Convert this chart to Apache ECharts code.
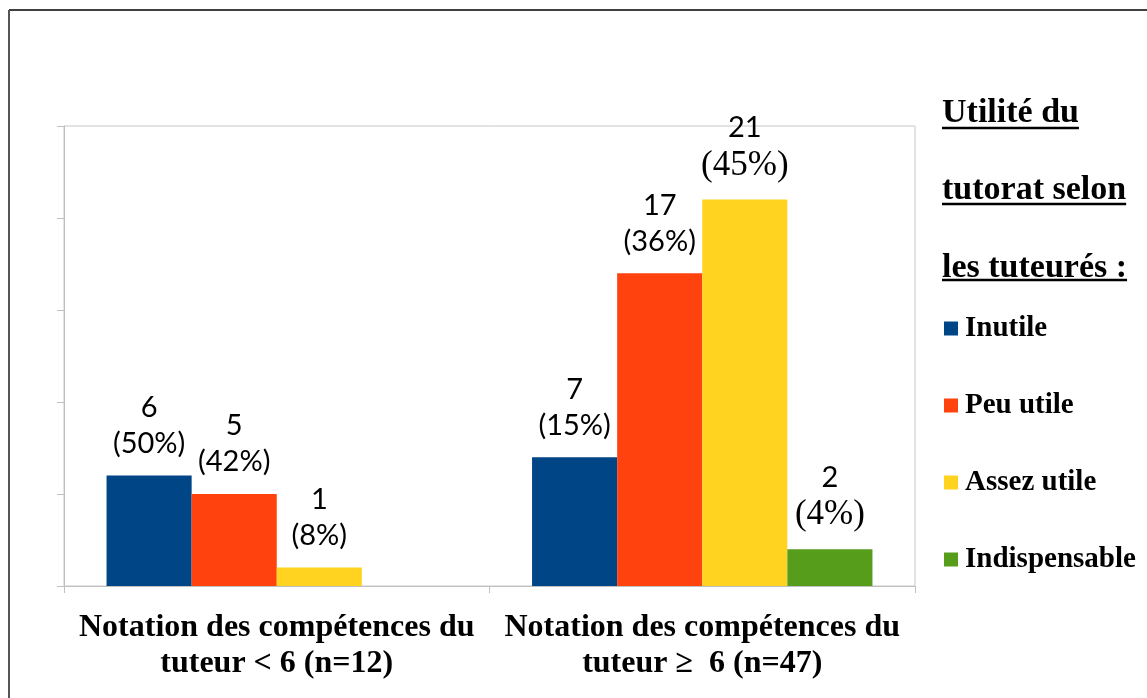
<!DOCTYPE html>
<html>
<head>
<meta charset="utf-8">
<script src="https://cdn.jsdelivr.net/npm/echarts@6/dist/echarts.min.js"></script>
<style>
  html, body { margin: 0; padding: 0; background: #fff; }
  #chart { width: 1147px; height: 698px; }
</style>
</head>
<body>
<div id="chart"></div>
<script>
// categories
const categories = [
  'Notation des compétences du\ntuteur < 6 (n=12)',
  'Notation des compétences du\ntuteur ≥  6 (n=47)'
]
// series names
const seriesNames = ['Inutile', 'Peu utile', 'Assez utile', 'Indispensable']
// counts
const inutile = [6, 7]
const peuUtile = [5, 17]
const assezUtile = [1, 21]
const indispensable = ['-', 2]
// percentages shown in labels
const inutilePct = ['50%', '15%']
const peuUtilePct = ['42%', '36%']
const assezUtilePct = ['8%', '45%']
const indispensablePct = ['', '4%']
// legend title
const legendTitle = ['Utilité du', 'tutorat selon', 'les tuteurés :']

const colors = ['#004586', '#ff420e', '#ffd320', '#579d1c']
const values = [inutile, peuUtile, assezUtile, indispensable]
const pcts = [inutilePct, peuUtilePct, assezUtilePct, indispensablePct]
// which labels have the percentage in a serif face (as in the original)
const serifPct = { '2-1': true, '3-1': true }

const SERIF = '"Liberation Serif", "Times New Roman", serif'
const SANS = 'Lato, "Noto Sans", sans-serif'

const myChart = echarts.init(document.getElementById('chart'))

// measure title widths for underlines
const ctx = document.createElement('canvas').getContext('2d')
ctx.font = 'bold 34px ' + SERIF
const titleTops = [96, 173, 251]
const underlineY = [128, 204, 280]

const graphics = [
  // outer frame
  { type: 'line', shape: { x1: 9, y1: 10, x2: 1147, y2: 10 }, style: { stroke: '#000', lineWidth: 1.5 }, silent: true },
  { type: 'line', shape: { x1: 9, y1: 10, x2: 9, y2: 698 }, style: { stroke: '#555', lineWidth: 2 }, silent: true }
]
legendTitle.forEach((t, i) => {
  graphics.push({
    type: 'text', left: 942, top: titleTops[i],
    style: { text: t, font: 'bold 34px ' + SERIF, fill: '#000' }
  })
  const w = ctx.measureText(t).width
  graphics.push({
    type: 'line', shape: { x1: 942, y1: underlineY[i], x2: 942 + w, y2: underlineY[i] },
    style: { stroke: '#000', lineWidth: 2.5 }, silent: true
  })
})

const option = {
  backgroundColor: '#fff',
  animation: false,
  grid: {
    left: 64, right: 232, top: 126, bottom: 112,
    show: true, borderColor: '#c8c8c8', borderWidth: 1
  },
  legend: {
    orient: 'vertical',
    left: 944, top: 314,
    padding: 0,
    itemWidth: 14, itemHeight: 14, itemGap: 48,
    icon: 'rect',
    data: seriesNames,
    textStyle: { fontFamily: SERIF, fontWeight: 'bold', fontSize: 29, lineHeight: 29, color: '#000', padding: [0, 0, 0, 2] }
  },
  xAxis: {
    type: 'category',
    data: categories,
    axisLine: { lineStyle: { color: '#c0c0c0' } },
    axisTick: { show: true, length: 7, lineStyle: { color: '#c0c0c0' } },
    axisLabel: {
      margin: 24, color: '#000', fontFamily: SERIF, fontWeight: 'bold',
      fontSize: 32, lineHeight: 36, interval: 0
    }
  },
  yAxis: {
    type: 'value', min: 0, max: 25, interval: 5,
    axisLine: { show: true, lineStyle: { color: '#c0c0c0' } },
    axisTick: { show: true, length: 7, lineStyle: { color: '#c0c0c0' } },
    axisLabel: { show: false },
    splitLine: { show: false }
  },
  series: seriesNames.map((name, s) => ({
    name: name,
    type: 'bar',
    data: values[s],
    barGap: 0,
    barCategoryGap: '20%',
    itemStyle: { color: colors[s] },
    label: {
      show: true,
      position: 'top',
      distance: 14,
      formatter: p => {
        const pct = pcts[s][p.dataIndex]
        const st = serifPct[s + '-' + p.dataIndex] ? 'ps' : 'p'
        return '{n|' + p.value + '}\n{' + st + '|(' + pct + ')}'
      },
      rich: {
        n: { fontFamily: SANS, fontSize: 29, lineHeight: 36, color: '#000' },
        p: { fontFamily: SANS, fontSize: 29, lineHeight: 36, color: '#000' },
        ps: { fontFamily: SERIF, fontSize: 35, lineHeight: 40, color: '#000' }
      }
    }
  })),
  graphic: graphics
}

myChart.setOption(option)
window.addEventListener('resize', myChart.resize)
</script>
</body>
</html>
